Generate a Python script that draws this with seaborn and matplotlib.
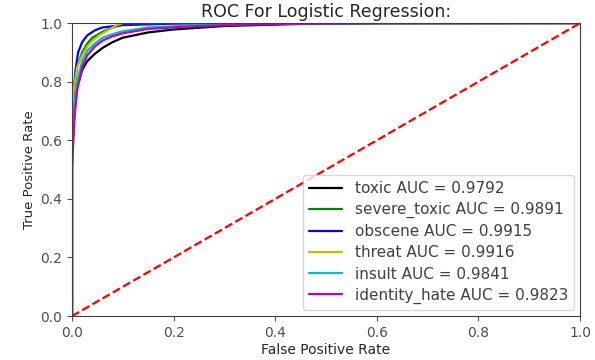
import numpy as np
import pandas as pd
import matplotlib
matplotlib.use("Agg")
import matplotlib.pyplot as plt
import seaborn as sns

classes = ["toxic", "severe_toxic", "obscene", "threat", "insult", "identity_hate"]
aucs = [0.9792, 0.9891, 0.9915, 0.9916, 0.9841, 0.9823]
colors = ["k", "g", "b", "y", "c", "m"]

fpr_toxic = [0, 0, 0.005, 0.01, 0.02, 0.03, 0.045, 0.06, 0.08, 0.1, 0.15, 0.2, 0.3, 0.45, 0.6, 1.0]
tpr_toxic = [0, 0.55, 0.70, 0.78, 0.84, 0.87, 0.895, 0.915, 0.935, 0.95, 0.968, 0.978, 0.99, 0.997, 0.999, 1.0]
fpr_severe = [0, 0, 0.005, 0.01, 0.02, 0.03, 0.04, 0.06, 0.08, 0.1, 0.2, 1.0]
tpr_severe = [0, 0.6, 0.78, 0.85, 0.9, 0.93, 0.95, 0.97, 0.985, 0.995, 1.0, 1.0]
fpr_obscene = [0, 0, 0.003, 0.007, 0.012, 0.02, 0.03, 0.045, 0.06, 0.1, 0.2, 0.4, 1.0]
tpr_obscene = [0, 0.6, 0.76, 0.84, 0.9, 0.935, 0.958, 0.975, 0.985, 0.993, 0.998, 1.0, 1.0]
fpr_threat = [0, 0, 0.004, 0.01, 0.02, 0.03, 0.04, 0.055, 0.07, 0.085, 0.1, 1.0]
tpr_threat = [0, 0.7, 0.78, 0.85, 0.89, 0.92, 0.94, 0.96, 0.975, 0.99, 1.0, 1.0]
fpr_insult = [0, 0, 0.005, 0.01, 0.02, 0.03, 0.045, 0.06, 0.08, 0.1, 0.15, 0.25, 0.4, 0.6, 1.0]
tpr_insult = [0, 0.55, 0.72, 0.8, 0.87, 0.905, 0.93, 0.95, 0.962, 0.972, 0.985, 0.993, 0.998, 1.0, 1.0]
fpr_identity = [0, 0, 0.005, 0.01, 0.02, 0.03, 0.045, 0.06, 0.08, 0.1, 0.15, 0.25, 0.4, 0.6, 1.0]
tpr_identity = [0, 0.5, 0.68, 0.77, 0.85, 0.89, 0.92, 0.94, 0.955, 0.965, 0.98, 0.99, 0.997, 1.0, 1.0]

fprs = [fpr_toxic, fpr_severe, fpr_obscene, fpr_threat, fpr_insult, fpr_identity]
tprs = [tpr_toxic, tpr_severe, tpr_obscene, tpr_threat, tpr_insult, tpr_identity]

rows = []
labels = []
for c, a, f, t in zip(classes, aucs, fprs, tprs):
    lab = f"{c} AUC = {a:.4f}"
    labels.append(lab)
    for i, (x, y) in enumerate(zip(f, t)):
        rows.append({"fpr": x, "tpr": y, "label": lab, "order": i})
df = pd.DataFrame(rows)

sns.set_style("ticks")
plt.rcParams["font.family"] = ["DejaVu Sans"]
fig, ax = plt.subplots(figsize=(5.95, 3.6), dpi=100)
fig.subplots_adjust(left=0.121, right=0.975, top=0.936, bottom=0.122)

sns.lineplot(data=df, x="fpr", y="tpr", hue="label", hue_order=labels,
             palette=dict(zip(labels, colors)), sort=False, estimator=None,
             linewidth=1.6, ax=ax)
sns.lineplot(x=[0, 1], y=[0, 1], color="r", linestyle="--", linewidth=1.6, ax=ax)

ax.set_xlim(0, 1)
ax.set_ylim(0, 1)
ax.set_title("ROC For Logistic Regression:", fontsize=12.5, pad=4)
ax.set_xlabel("False Positive Rate", fontsize=10, labelpad=2)
ax.set_ylabel("True Positive Rate", fontsize=9.5, labelpad=3)
ax.tick_params(labelsize=10, colors=".3", labelcolor=".3")
for s in ax.spines.values():
    s.set_visible(True)
    s.set_color(".25")
leg = ax.legend(loc="lower right", fontsize=11, frameon=True, labelspacing=0.4,
                handlelength=2.2, borderaxespad=0.4)
for t in leg.get_texts():
    t.set_color(".25")
fig.savefig("out.png", dpi=100)
